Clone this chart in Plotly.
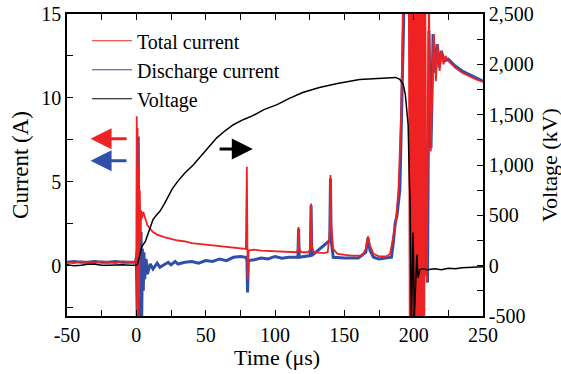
import plotly.graph_objects as go

# ---- Data ----
t_total = [-50, -45, -40, -35, -30, -25, -20, -15, -10, -5, -2, -0.5, 0, 0.3, 0.6, 0.9, 1.2, 1.5, 2, 2.5, 3, 3.5, 4, 5, 6, 7, 8, 10, 12, 15, 18, 20,
           25, 30, 35, 40, 45, 50, 55, 60, 65, 70, 75, 79, 79.7, 80, 80.3, 81, 85, 90, 100, 110, 115, 116.5, 117, 117.5, 119,
           124, 125.5, 126, 126.5, 128, 135, 138, 139.5, 140, 140.5, 142, 145, 155, 163, 165.5, 167, 168.5, 171, 175, 180,
           183, 185, 187, 189, 191, 192.5, 196.5,
           197.2, 197.85, 198.5, 199.15, 199.8, 200.45, 201.1, 201.75, 202.4, 203.05, 203.7, 204.35, 205.0, 205.65, 206.3,
           206.95, 207.6, 208.3, 209.5, 211, 212.3, 214.5, 216, 217.3, 218.7, 220, 221.5, 223, 225, 230, 235, 240, 245, 250]
i_total = [0.2, 0.15, 0.25, 0.2, 0.15, 0.25, 0.2, 0.15, 0.25, 0.2, 0.2, 0.3, 1.0, 8.9, -4, 8.2, -4, 6.0, -2, 4.5, 1.5, 3.3, 2.8, 3.2, 2.9, 2.6, 2.4, 2.2, 2.0, 1.85, 1.75, 1.7,
           1.6, 1.5, 1.45, 1.35, 1.3, 1.25, 1.2, 1.15, 1.1, 1.05, 1.0, 1.0, 5.9, 2.0, -0.8, 0.9, 0.95, 0.9, 0.85, 0.8, 0.8, 0.9, 2.3, 1.0, 0.8,
           0.8, 1.0, 3.7, 1.2, 0.8, 0.75, 0.8, 2.0, 5.4, 2.5, 1.0, 0.7, 0.6, 0.6, 1.0, 1.75, 1.2, 0.7, 0.55, 0.55,
           0.7, 1.5, 2.5, 4.5, 9.0, 17, 17,
           -5, 17, -5, 17, -5, 17, -5, 17, -5, 17, -5, 17, -5, 17, -5,
           17, -5, 17, -1, 16, 6.8, 13.8, 11.0, 13.2, 11.6, 12.8, 12.0, 12.5, 12.2, 11.8, 11.5, 11.3, 11.1, 10.95]

t_dis = [-50, -45, -40, -35, -30, -25, -20, -15, -10, -5, -0.5, 0, 0.8, 1.4, 1.9, 2.4, 2.9, 3.4, 3.9, 4.4, 5, 5.5, 6, 7, 8, 10, 12, 15, 17, 20,
         23, 25, 28, 30, 35, 40, 45, 50, 55, 60, 65, 70, 75, 79, 79.8, 80.2, 80.8, 85, 90, 95, 100, 105, 110, 116.5, 117, 117.5, 125.5, 126, 126.5,
         139.5, 140, 140.5, 142, 150, 160, 165.5, 167, 168.5, 171, 175, 180, 184, 185.5, 186.7, 188, 190, 190.5, 191.5,
         193, 196, 199, 203, 208, 209, 210, 211, 212.5, 214, 215.5, 217, 218.5, 220, 222, 225, 230, 235, 240, 245, 250]
i_dis = [0.2, 0.25, 0.2, 0.2, 0.25, 0.2, 0.2, 0.25, 0.2, 0.2, 0.2, 0.5, -4, 7.7, -4, 2.3, -4, 2.0, -3, 1.0, -1.5, 0.8, -0.8, 0.4, -0.5, 0.1, -0.2, 0.15, -0.1, 0.05,
         0.2, 0.05, 0.25, 0.1, 0.2, 0.25, 0.15, 0.3, 0.25, 0.4, 0.3, 0.5, 0.55, 0.5, 0.3, -1.6, 0.3, 0.35, 0.45, 0.4, 0.55, 0.45, 0.5, 0.5, 2.2, 0.5, 0.6, 3.6, 0.6,
         1.5, 5.2, 1.5, 0.5, 0.45, 0.45, 0.8, 1.65, 0.9, 0.5, 0.4, 0.45, 0.5, 1.5, 2.55, 3.0, 4.5, 6.1, 10.5,
         15.5, 17, 10, 5, -0.6, 5, -1, 14, 7, 13.8, 11.5, 13.2, 11.8, 12.8, 12.2, 12.3, 11.9, 11.6, 11.4, 11.2, 11.0]

t_volt = [-50, -45, -40, -35, -30, -25, -20, -15, -10, -5, -2, 0, 1, 2, 3, 4, 6.5, 9, 12, 15, 17, 20, 23, 26, 30, 35, 41, 46, 51, 58, 64,
          70, 77, 84, 92, 101.5, 110, 120, 132, 145, 161, 175, 187, 190, 192.5, 194, 196, 197, 197.5, 198.3, 199.6, 200.5,
          202.3, 203.2, 204.5, 206, 210, 215, 220, 225, 230, 235, 240, 245, 250]
v_volt = [10, 0, 5, 15, 15, 5, 5, 10, 10, 5, 5, 5, 20, 80, 150, 190, 240, 340, 457, 510, 540, 610, 690, 765, 840, 920, 1000, 1080, 1150, 1270, 1340,
          1400, 1450, 1490, 1550, 1600, 1660, 1720, 1770, 1810, 1850, 1860, 1870, 1850, 1800, 1700, 1400, 800, 600, -600, 330, -500,
          110, -120, -40, -30, -40, -30, -40, -25, -30, -20, -15, -10, -10]

x_ticks = [-50, 0, 50, 100, 150, 200, 250]
x_labels = ["-50", "0", "50", "100", "150", "200", "250"]
yl_ticks = [0, 5, 10, 15]
yl_labels = ["0", "5", "10", "15"]
yr_ticks = [-500, 0, 500, 1000, 1500, 2000, 2500]
yr_labels = ["-500", "0", "500", "1,000", "1,500", "2,000", "2,500"]

RED = "#ee2222"
BLUE = "#2f4fa8"
FONT = "Liberation Serif, Times New Roman, serif"

fig = go.Figure()
fig.add_trace(go.Scatter(x=t_dis, y=i_dis, mode="lines", name="Discharge current",
                         line=dict(color=BLUE, width=3), showlegend=False))
fig.add_trace(go.Scatter(x=t_total, y=i_total, mode="lines", name="Total current",
                         line=dict(color=RED, width=1.8), showlegend=False))
fig.add_trace(go.Scatter(x=t_volt, y=v_volt, mode="lines", name="Voltage", yaxis="y2",
                         line=dict(color="black", width=1.5), showlegend=False))
# legend entries (thin lines, as in the reference legend)
fig.add_trace(go.Scatter(x=[None], y=[None], mode="lines", name="Total current",
                         line=dict(color=RED, width=1.2), legendrank=1))
fig.add_trace(go.Scatter(x=[None], y=[None], mode="lines", name="Discharge current",
                         line=dict(color=BLUE, width=1.2), legendrank=2))
fig.add_trace(go.Scatter(x=[None], y=[None], mode="lines", name="Voltage",
                         line=dict(color="black", width=1.2), legendrank=3))

tickcommon = dict(ticks="inside", ticklen=6, tickwidth=1.2, tickcolor="black",
                  showline=True, linecolor="black", linewidth=1.5, showgrid=False, zeroline=False,
                  automargin=False,
                  tickfont=dict(family=FONT, size=20, color="black"))

fig.update_layout(
    width=561, height=374,
    margin=dict(l=67, r=78, t=14, b=58),
    plot_bgcolor="white", paper_bgcolor="white",
    font=dict(family=FONT, size=20, color="black"),
    xaxis=dict(range=[-50, 250], tickvals=x_ticks, ticktext=x_labels, mirror="allticks",
               minor=dict(ticks="inside", dtick=25, ticklen=6, tickcolor="black", tickwidth=1.2),
               **tickcommon),
    yaxis=dict(range=[-3, 15], tickvals=yl_ticks, ticktext=yl_labels,
               minor=dict(ticks="inside", dtick=2.5, ticklen=6, tickcolor="black", tickwidth=1.2),
               title=dict(text="Current (A)", font=dict(family=FONT, size=23), standoff=6),
               **tickcommon),
    yaxis2=dict(range=[-500, 2500], tickvals=yr_ticks, ticktext=yr_labels, overlaying="y", side="right",
                minor=dict(ticks="inside", dtick=250, ticklen=6, tickcolor="black", tickwidth=1.2),
                **tickcommon),
    legend=dict(x=0.048, y=0.976, xanchor="left", yanchor="top", bgcolor="rgba(0,0,0,0)",
                font=dict(family=FONT, size=20), itemwidth=40),
    showlegend=True,
)

# axis titles placed as in the reference
fig.add_annotation(text="Time (μs)", xref="paper", yref="paper", x=0.506, y=-0.139,
                   xanchor="center", yanchor="middle", showarrow=False,
                   font=dict(family=FONT, size=22, color="black"))
fig.add_annotation(text="Voltage (kV)", xref="paper", yref="paper", x=1.1587, y=0.5,
                   xanchor="center", yanchor="middle", textangle=-90, showarrow=False,
                   font=dict(family=FONT, size=22, color="black"))

# direction arrows
fig.add_annotation(x=-33, y=7.56, ax=-6, ay=7.56, xref="x", yref="y", axref="x", ayref="y",
                   showarrow=True, arrowhead=2, arrowsize=1.4, arrowwidth=3, arrowcolor=RED, text="")
fig.add_annotation(x=-33, y=6.25, ax=-6, ay=6.25, xref="x", yref="y", axref="x", ayref="y",
                   showarrow=True, arrowhead=2, arrowsize=1.4, arrowwidth=3, arrowcolor=BLUE, text="")
fig.add_annotation(x=84, y=6.96, ax=59, ay=6.96, xref="x", yref="y", axref="x", ayref="y",
                   showarrow=True, arrowhead=2, arrowsize=1.4, arrowwidth=3, arrowcolor="black", text="")

fig.write_html("out.html")
